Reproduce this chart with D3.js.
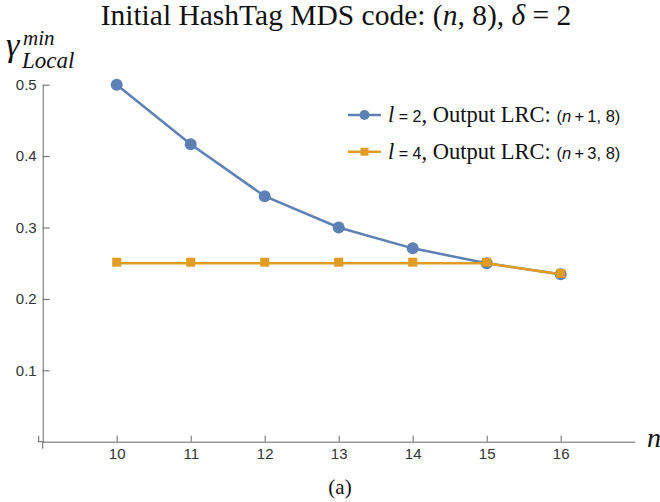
<!DOCTYPE html>
<html>
<head>
<meta charset="utf-8">
<script src="https://cdn.jsdelivr.net/npm/d3@7"></script>
<style>
  body { margin: 0; background: #fff; }
  svg { display: block; }
  .tick text { font-family: "Liberation Sans", Arial, sans-serif; font-size: 15px; fill: #333; }
  .tick line, .domain { stroke: #666; }
</style>
</head>
<body>
<div id="chart"></div>
<script>
// data
const nValues = [10, 11, 12, 13, 14, 15, 16]
const gammaL2 = [0.5, 0.4167, 0.3438, 0.3, 0.2708, 0.25, 0.2344]
const gammaL4 = [0.25, 0.25, 0.25, 0.25, 0.25, 0.25, 0.2344]
const yTicks = [0.1, 0.2, 0.3, 0.4, 0.5]
const seriesNames = [
  {l: "2", shift: "1"},
  {l: "4", shift: "3"}
]

const width = 660
const height = 502
const blue = "#5e81b5"
const orange = "#e19c24"
const serif = "'Liberation Serif', 'Times New Roman', serif"
const sans = "'Liberation Sans', Arial, sans-serif"

let svg = d3.select("#chart")
  .append("svg")
  .attr("width", width)
  .attr("height", height)

let x = d3.scaleLinear().domain([9, 17]).range([42.7, 634.7])
let y = d3.scaleLinear().domain([0, 0.5]).range([441.7, 84.7])

// title
let title = svg.append("text")
  .attr("x", 336)
  .attr("y", 25)
  .attr("text-anchor", "middle")
  .style("font-family", serif)
  .style("font-size", "29.5px")
  .attr("fill", "#111")
title.append("tspan").text("Initial HashTag MDS code: (")
title.append("tspan").style("font-style", "italic").text("n")
title.append("tspan").text(", 8), ")
title.append("tspan").style("font-style", "italic").text("δ")
title.append("tspan").text(" = 2")

// axes
let xAxis = d3.axisBottom(x)
  .tickValues(nValues)
  .tickSizeInner(-6)
  .tickSizeOuter(0)
  .tickPadding(7)
  .tickFormat(d3.format("d"))
svg.append("g")
  .attr("transform", "translate(0," + y(0) + ")")
  .call(xAxis)

let yAxis = d3.axisLeft(y)
  .tickValues(yTicks)
  .tickSizeInner(-7)
  .tickSizeOuter(0)
  .tickPadding(6)
  .tickFormat(d3.format(".1f"))
svg.append("g")
  .attr("transform", "translate(" + x(9) + ",0)")
  .call(yAxis)

// little overhang at the origin
svg.append("line")
  .attr("x1", x(9) - 5).attr("x2", x(9))
  .attr("y1", y(0)).attr("y2", y(0))
  .attr("stroke", "#666")
svg.append("line")
  .attr("x1", x(9)).attr("x2", x(9))
  .attr("y1", y(0)).attr("y2", y(0) + 7)
  .attr("stroke", "#666")
svg.append("line")
  .attr("x1", x(9) - 4).attr("x2", x(9) - 4)
  .attr("y1", y(0) - 6).attr("y2", y(0))
  .attr("stroke", "#666")

// axis labels
svg.append("text")
  .attr("x", 647)
  .attr("y", 447)
  .style("font-family", serif)
  .style("font-style", "italic")
  .style("font-size", "28px")
  .attr("fill", "#111")
  .text("n")

let yl = svg.append("g").attr("fill", "#111")
  .style("font-family", serif)
  .style("font-style", "italic")
yl.append("text").attr("x", 6).attr("y", 56).style("font-size", "34px").text("γ")
yl.append("text").attr("x", 23).attr("y", 45).style("font-size", "21px").text("min")
yl.append("text").attr("x", 22).attr("y", 68).style("font-size", "23px").text("Local")

// series
let pts2 = nValues.map((n, i) => [n, gammaL2[i]])
let pts4 = nValues.map((n, i) => [n, gammaL4[i]])
let line = d3.line().x(d => x(d[0])).y(d => y(d[1]))

svg.append("path")
  .datum(pts2)
  .attr("d", line)
  .attr("fill", "none")
  .attr("stroke", blue)
  .attr("stroke-width", 2.5)
svg.selectAll(".dot2")
  .data(pts2)
  .enter()
  .append("circle")
  .attr("class", "dot2")
  .attr("cx", d => x(d[0]))
  .attr("cy", d => y(d[1]))
  .attr("r", 6)
  .attr("fill", blue)

svg.append("path")
  .datum(pts4)
  .attr("d", line)
  .attr("fill", "none")
  .attr("stroke", orange)
  .attr("stroke-width", 2.5)
svg.selectAll(".dot4")
  .data(pts4)
  .enter()
  .append("rect")
  .attr("class", "dot4")
  .attr("x", d => x(d[0]) - 4.5)
  .attr("y", d => y(d[1]) - 5.5)
  .attr("width", 9)
  .attr("height", 9)
  .attr("fill", orange)

// legend
let legend = svg.append("g").attr("transform", "translate(348,115)")
let items = legend.selectAll(".item")
  .data(seriesNames)
  .enter()
  .append("g")
  .attr("class", "item")
  .attr("transform", (d, i) => "translate(0," + (i * 36.7) + ")")
items.append("line")
  .attr("x1", 0).attr("x2", 33)
  .attr("stroke", (d, i) => i == 0 ? blue : orange)
  .attr("stroke-width", 2.5)
items.filter((d, i) => i == 0).append("circle")
  .attr("cx", 16.5).attr("r", 5).attr("fill", blue)
items.filter((d, i) => i == 1).append("rect")
  .attr("x", 12.5).attr("y", -4).attr("width", 8).attr("height", 8).attr("fill", orange)

let lt = items.append("text")
  .attr("x", 40)
  .attr("y", 7)
  .attr("fill", "#111")
  .style("font-family", serif)
  .style("font-size", "22.5px")
lt.append("tspan").style("font-style", "italic").text("l")
lt.append("tspan").style("font-family", sans).style("font-size", "16px").text(" = ")
lt.append("tspan").style("font-family", sans).style("font-size", "16px").text(d => d.l)
lt.append("tspan").text(", Output LRC: ")
lt.append("tspan").style("font-family", sans).style("font-size", "16.5px").text("(")
lt.append("tspan").style("font-family", sans).style("font-size", "16.5px").style("font-style", "italic").text("n")
lt.append("tspan").style("font-family", sans).style("font-size", "16.5px").text(d => "\u2009+\u2009" + d.shift + ", 8)")

// caption
svg.append("text")
  .attr("x", 340)
  .attr("y", 494)
  .attr("text-anchor", "middle")
  .style("font-family", serif)
  .style("font-size", "21px")
  .attr("fill", "#111")
  .text("(a)")
</script>
</body>
</html>
